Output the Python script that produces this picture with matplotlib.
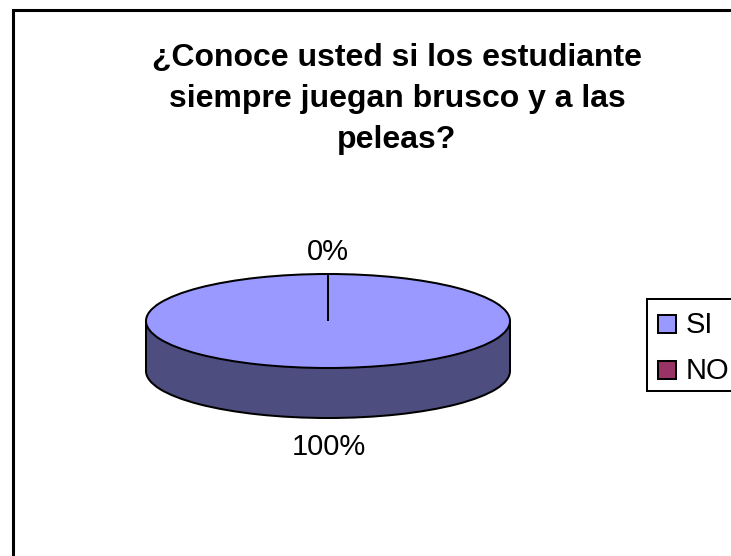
import matplotlib
matplotlib.use("Agg")
import matplotlib.pyplot as plt
from matplotlib.patches import Rectangle

plt.rcParams['font.family'] = ['Liberation Sans', 'DejaVu Sans']

# Data
categories = ["SI", "NO"]
values = [100, 0]
title = "¿Conoce usted si los estudiante\nsiempre juegan brusco y a las\npeleas?"
top_colors = ["#9999FF", "#993366"]
side_color = "#4D4D80"

W, H = 731, 556
lw = 1.45

fig = plt.figure(figsize=(W / 100, H / 100), dpi=100, facecolor="white")

# Pie axes: one unit is the ellipse radius, so the tilt comes from the limits
cx, cy, rx, ry, depth = 328, 321, 182, 47, 50
ax = fig.add_axes([0, 0, 1, 1])
ax.pie(values, colors=[side_color, side_color], startangle=90, center=(0, -depth / ry),
       wedgeprops={"edgecolor": "black", "linewidth": lw})
ax.add_patch(Rectangle((-1, -depth / ry), 2, depth / ry, facecolor=side_color, edgecolor="none", zorder=1.5))
ax.plot([-1, -1], [-depth / ry, 0], color="black", lw=lw, zorder=1.6)
ax.plot([1, 1], [-depth / ry, 0], color="black", lw=lw, zorder=1.6)
wedges, _ = ax.pie(values, colors=top_colors, startangle=90,
                   wedgeprops={"edgecolor": "black", "linewidth": lw})
for w in wedges:
    w.set_zorder(2)
ax.set_aspect("auto")
ax.set_xlim(-cx / rx, (W - cx) / rx)
ax.set_ylim((cy - H) / ry, cy / ry)
ax.axis("off")

# Overlay in pixel coordinates for frame, texts and legend
ov = fig.add_axes([0, 0, 1, 1])
ov.set_xlim(0, W)
ov.set_ylim(H, 0)
ov.axis("off")
ov.patch.set_alpha(0)

ov.plot([13, 13, W], [H, 10, 10], color="black", lw=2.2, solid_joinstyle="miter")

ov.text(397, 99, title, ha="center", va="center", fontsize=23, fontweight="bold",
        linespacing=1.47)

# pie labels
total = sum(values)
ov.text(328, 252, f"{values[1] / total:.0%}", ha="center", va="center", fontsize=21)
ov.text(329, 447, f"{values[0] / total:.0%}", ha="center", va="center", fontsize=21)

# legend, clipped by the right edge like the original
ov.add_patch(Rectangle((647, 299), 100, 92, facecolor="white", edgecolor="black", lw=lw))
for name, color, y in zip(categories, top_colors, [324, 370]):
    ov.add_patch(Rectangle((657.5, y - 9), 18, 18, facecolor=color, edgecolor="black", lw=lw))
    ov.text(686, y + 1, name, ha="left", va="center", fontsize=21)

fig.savefig("out.png", dpi=100)
